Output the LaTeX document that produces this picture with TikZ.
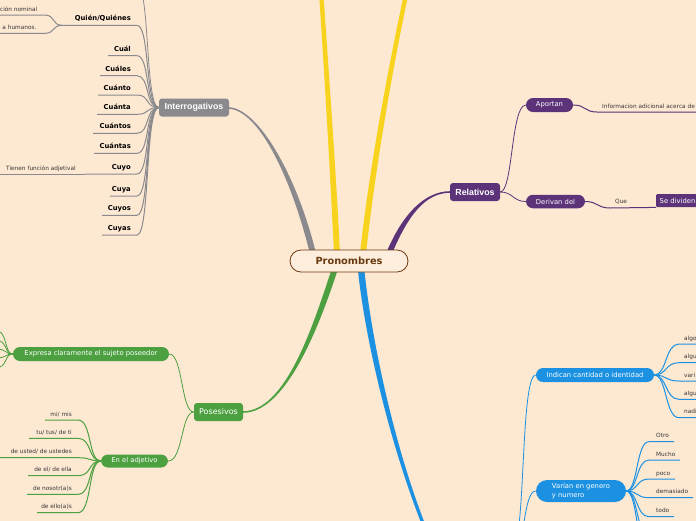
\documentclass[tikz,border=0pt]{standalone}
\usepackage{fontspec}
\setmainfont{DejaVu Sans}
\newfontfamily\arialf{Liberation Sans}
\usetikzlibrary{calc,backgrounds}
\definecolor{bg}{RGB}{253,232,210}
\definecolor{cfill}{RGB}{253,237,220}
\definecolor{cgray}{RGB}{138,138,142}
\definecolor{cyel}{RGB}{247,211,30}
\definecolor{cpur}{RGB}{92,50,120}
\definecolor{cgrn}{RGB}{76,160,64}
\definecolor{cblu}{RGB}{28,145,226}
\definecolor{cbrn}{RGB}{106,58,16}
\definecolor{ctxt}{RGB}{55,55,55}
\newcommand\taperbr[7]{%
 \coordinate (tp0) at #2; \coordinate (tc1) at #3; \coordinate (tc2) at #4; \coordinate (tp3) at #5;
 \coordinate (tp0l) at ($(tp0)!#6!90:(tc1)$);
 \coordinate (tp0r) at ($(tp0)!#6!-90:(tc1)$);
 \coordinate (tp3l) at ($(tp3)!#7!-90:(tc2)$);
 \coordinate (tp3r) at ($(tp3)!#7!90:(tc2)$);
 \fill[#1] (tp0l) .. controls ($(tc1)+(tp0l)-(tp0)$) and ($(tc2)+(tp3l)-(tp3)$) .. (tp3l) -- (tp3r) .. controls ($(tc2)+(tp3r)-(tp3)$) and ($(tc1)+(tp0r)-(tp0)$) .. (tp0r) -- cycle;}
\tikzset{
 topbox/.style={rounded corners=3pt, inner sep=0pt, minimum height=18pt, text=white, font=\arialf\bfseries\fontsize{8.8}{10}\selectfont},
 pill/.style={rounded corners=7pt, inner sep=0pt, minimum height=14pt, text=white, font=\fontsize{6.8}{8}\selectfont},
 ilbl/.style={inner sep=0pt, anchor=base east, font=\fontsize{6.8}{8}\selectfont\bfseries},
 slbl/.style={inner sep=0pt, text=ctxt, font=\fontsize{5.8}{7}\selectfont},
 conn/.style={line width=0.8pt},
 uline/.style={line width=1pt},
}
\begin{document}
\begin{tikzpicture}[x=1pt,y=-1pt]
\useasboundingbox (0,0) rectangle (696,520);
\clip (0,0) rectangle (696,520);

% centre node
\node[draw=cbrn, line width=0.8pt, fill=cfill, rounded corners=11pt, minimum width=118pt, minimum height=22pt, inner sep=0pt, text=cbrn, font=\fontsize{9.8}{11}\selectfont\bfseries] (pron) at (349,261) {Pronombres};

% main branches (below the nodes)
\begin{pgfonlayer}{background}
\fill[bg] (-10,-10) rectangle (710,530);
\taperbr{cgray}{($(pron.north)+(-36,4)$)}{(295,180)}{(260,110)}{(229,108)}{3pt}{0.8pt}
\taperbr{cyel}{($(pron.north)+(-12,4)$)}{(333,170)}{(327,80)}{(321,-10)}{3pt}{2.2pt}
\taperbr{cyel}{($(pron.north)+(14,4)$)}{(372,170)}{(390,70)}{(407,-10)}{3pt}{2.2pt}
\taperbr{cpur}{($(pron.north)+(40,4)$)}{(405,215)}{(425,192)}{(450,192)}{2.8pt}{0.8pt}
\taperbr{cgrn}{($(pron.south)+(-14,-4)$)}{(315,330)}{(285,412)}{(243,412)}{3pt}{0.8pt}
\taperbr{cblu}{($(pron.south)+(12,-4)$)}{(368,340)}{(395,460)}{(432,545)}{3.2pt}{1.6pt}
\end{pgfonlayer}

% ---------- Interrogativos ----------
\node[topbox, fill=cgray, minimum width=70pt] (interr) at (194,107.5) {Interrogativos};
\begin{scope}[draw=cgray]
\coordinate (iup) at (137,-15);
\draw[conn] (interr.west) .. controls (145,107.5) and (150,-15) .. (iup);
\node[ilbl] (quien) at (131,20.8) {Quién/Quiénes};
\draw[uline] (interr.west) .. controls (145,107.5) and (150,25.3) .. (137,25.3) -- (62,25.3);
\node[ilbl] (cual) at (131,51.2) {Cuál};
\draw[uline] (interr.west) .. controls (145,107.5) and (150,55.7) .. (137,55.7) -- (108,55.7);
\node[ilbl] (cuales) at (131,71.2) {Cuáles};
\draw[uline] (interr.west) .. controls (145,107.5) and (150,75.7) .. (137,75.7) -- (100,75.7);
\node[ilbl] (cuanto) at (131,90.5) {Cuánto};
\draw[uline] (interr.west) .. controls (145,107.5) and (150,95) .. (137,95) -- (98,95);
\node[ilbl] (cuanta) at (131,109.8) {Cuánta};
\draw[uline] (interr.west) .. controls (145,107.5) and (150,114.3) .. (137,114.3) -- (97,114.3);
\node[ilbl] (cuantos) at (131,128.8) {Cuántos};
\draw[uline] (interr.west) .. controls (145,107.5) and (150,133.3) .. (137,133.3) -- (93,133.3);
\node[ilbl] (cuantas) at (131,148.8) {Cuántas};
\draw[uline] (interr.west) .. controls (145,107.5) and (150,153.3) .. (137,153.3) -- (94,153.3);
\node[ilbl] (cuyo) at (131,169.5) {Cuyo};
\draw[uline] (interr.west) .. controls (145,107.5) and (150,174) .. (137,174) -- (85,174);
\node[ilbl] (cuya) at (131,191.5) {Cuya};
\draw[uline] (interr.west) .. controls (145,107.5) and (150,196) .. (137,196) -- (110,196);
\node[ilbl] (cuyos) at (131,210.8) {Cuyos};
\draw[uline] (interr.west) .. controls (145,107.5) and (150,215.3) .. (137,215.3) -- (102,215.3);
\node[ilbl] (cuyas) at (131,230.5) {Cuyas};
\draw[uline] (interr.west) .. controls (145,107.5) and (150,235) .. (137,235) -- (102,235);
% quien children
\node[slbl, anchor=base east] (nomin) at (37.5,11) {ción nominal};
\draw[uline] (62,25.3) .. controls (52,25.3) and (55,15) .. (45,15) -- (-5,15);
\node[slbl, anchor=base east] (human) at (36.7,29.5) {a humanos.};
\draw[uline] (62,25.3) .. controls (52,25.3) and (55,33.3) .. (45,33.3) -- (-5,33.3);
% cuyo child
\node[slbl, anchor=base west] (tienen) at (6,170.5) {Tienen función adjetival};
\draw[uline] (85,174) -- (-5,174);
\end{scope}

% ---------- Relativos ----------
\node[topbox, fill=cpur, minimum width=50pt] (rel) at (475,192) {Relativos};
\node[pill, fill=cpur, minimum width=47pt] (aport) at (549.5,105) {Aportan};
\node[pill, fill=cpur, minimum width=59pt, minimum height=13.5pt] (deriv) at (555.5,201.5) {Derivan del};
\node[fill=cpur, rounded corners=1pt, inner sep=0pt, anchor=north west, minimum height=13pt, text width=54pt, align=left, text=white, font=\fontsize{6.8}{8}\selectfont] (sediv) at (656,194) {\hspace*{3.5pt}Se dividen};
\begin{scope}[draw=cpur]
\draw[conn] (rel.east) .. controls (513,192) and (511,105) .. (aport.west);
\draw[conn] (rel.east) .. controls (513,192) and (513,201.5) .. (deriv.west);
\coordinate (infoE) at (700,112);
\draw[uline] (aport.east) .. controls (586,105) and (584,112) .. (597,112) -- (infoE);
\node[slbl, anchor=base west] (info) at (602,108) {Informacion adicional acerca de};
\draw[uline] (deriv.east) .. controls (598,201.5) and (597,208) .. (610,208) -- (sediv.south west);
\node[slbl, anchor=base west] (que) at (615,203.5) {Que};
\end{scope}

% ---------- Posesivos ----------
\node[fill=cgrn, rounded corners=3pt, inner sep=0pt, minimum width=49pt, minimum height=18pt, text=white, font=\fontsize{8}{9}\selectfont] (pos) at (218.5,412) {Posesivos};
\node[pill, fill=cgrn, minimum width=156pt] (expr) at (91,354) {Expresa claramente el sujeto poseedor};
\node[pill, fill=cgrn, minimum width=67pt, minimum height=13pt] (enadj) at (134.5,461) {En el adjetivo};
\begin{scope}[draw=cgrn]
\draw[conn] (pos.west) .. controls (181,412) and (183,354) .. (expr.east);
\draw[conn] (pos.west) .. controls (181,412) and (183,461) .. (enadj.east);
\foreach \yy in {330,340,349,358,368}{
 \draw[conn] (expr.west) .. controls (4,354) and (8,\yy) .. (-5,\yy);
}
\node[slbl, anchor=base east] (mi) at (72,416) {mi/ mis};
\draw[uline] (enadj.west) .. controls (88,461) and (92,420) .. (78,420) -- (45,420);
\node[slbl, anchor=base east] (tu) at (72,434.3) {tu/ tus/ de ti};
\draw[uline] (enadj.west) .. controls (88,461) and (92,438.3) .. (78,438.3) -- (29,438.3);
\node[slbl, anchor=base east] (usted) at (72,453.7) {de usted/ de ustedes};
\draw[uline] (enadj.west) .. controls (88,461) and (92,457.7) .. (78,457.7) -- (-5,457.7);
\node[slbl, anchor=base east] (del) at (72,471.7) {de el/ de ella};
\draw[uline] (enadj.west) .. controls (88,461) and (92,475.7) .. (78,475.7) -- (28,475.7);
\node[slbl, anchor=base east] (nos) at (72,490.3) {de nosotr(a)s};
\draw[uline] (enadj.west) .. controls (88,461) and (92,494.3) .. (78,494.3) -- (27,494.3);
\node[slbl, anchor=base east] (ello) at (72,508.7) {de ello(a)s};
\draw[uline] (enadj.west) .. controls (88,461) and (92,512.7) .. (78,512.7) -- (37,512.7);
\end{scope}

% ---------- Blue ----------
\coordinate (bluepar) at (512,548);
\node[pill, fill=cblu, minimum width=118pt] (indic) at (595,375) {Indican cantidad o identidad};
\node[pill, fill=cblu, minimum width=90pt, minimum height=22pt, rounded corners=11pt, align=left, font=\fontsize{6.8}{8.3}\selectfont] (varian) at (581,491) {Varían en genero\\y numero};
\begin{scope}[draw=cblu]
\draw[conn] (bluepar) .. controls (526,548) and (520,375) .. (indic.west);
\draw[conn] (bluepar) .. controls (526,548) and (523,491) .. (varian.west);
\foreach \yy/\tx in {344/algo,362.7/algu,381/vari,399.3/algu,417.7/nadi}{
 \draw[uline] (indic.east) .. controls (667,375) and (665,\yy) .. (679,\yy) -- (700,\yy);
 \node[slbl, anchor=base west] at (684,\yy-4) {\tx};
}
\foreach \yy/\xe/\tx in {441.7/674/Otro,460/680/Mucho,479/675/poco,497.7/693/demasiado,516.7/674/todo}{
 \draw[uline] (varian.east) .. controls (638,491) and (636,\yy) .. (649,\yy) -- (\xe,\yy);
 \node[slbl, anchor=base west] at (656,\yy-4) {\tx};
}
\draw[uline] (varian.east) .. controls (638,491) and (636,535) .. (649,535) -- (674,535);
\draw[uline] (varian.east) .. controls (638,491) and (636,554) .. (649,554) -- (674,554);
\end{scope}
\end{tikzpicture}
\end{document}
